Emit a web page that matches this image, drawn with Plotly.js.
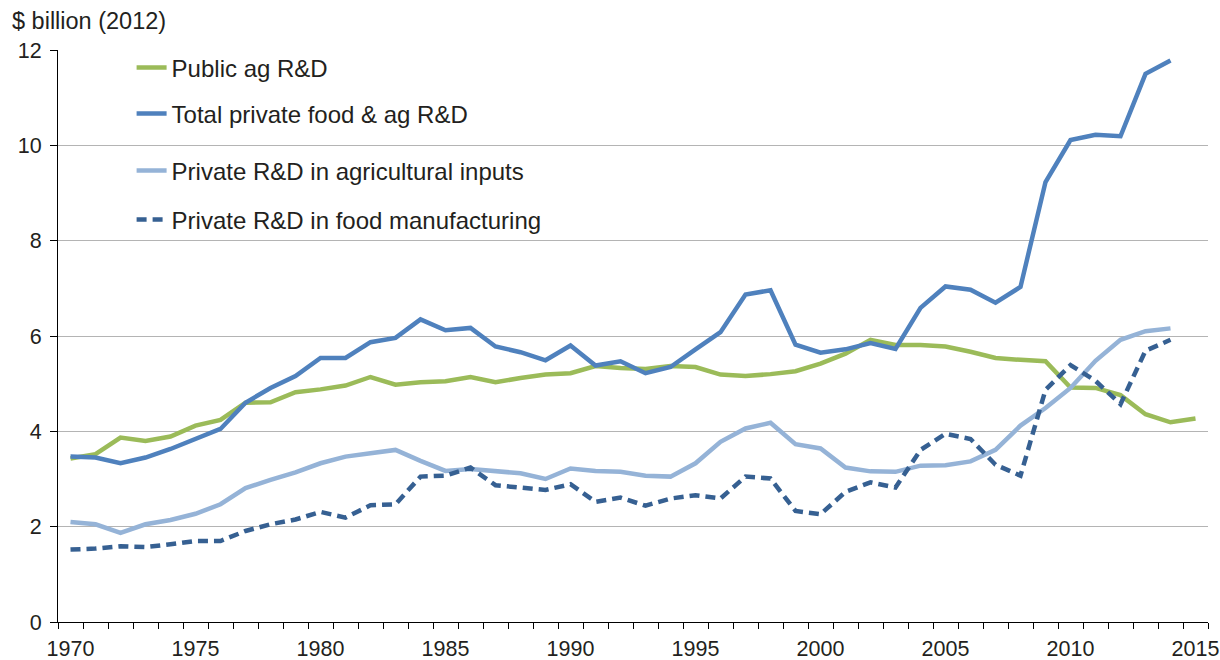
<!DOCTYPE html>
<html>
<head>
<meta charset="utf-8">
<script src="https://cdn.plot.ly/plotly-3.0.1.min.js"></script>
<style>html,body{margin:0;padding:0;background:#fff;}#chart{width:1220px;height:660px;}</style>
</head>
<body>
<div id="chart"></div>
<script>
const years = [];
for (let y = 1970; y <= 2015; y++) years.push(y);

const publicAg = [3.43,3.52,3.87,3.80,3.89,4.12,4.24,4.60,4.61,4.82,4.88,4.96,5.14,4.98,5.03,5.05,5.14,5.03,5.12,5.19,5.22,5.37,5.33,5.31,5.37,5.35,5.19,5.16,5.20,5.26,5.42,5.63,5.92,5.81,5.81,5.78,5.67,5.54,5.50,5.47,4.92,4.91,4.76,4.36,4.19,4.27];
const totalPrivate = [3.47,3.45,3.33,3.45,3.63,3.85,4.05,4.60,4.91,5.16,5.54,5.54,5.87,5.96,6.35,6.12,6.17,5.78,5.66,5.49,5.80,5.38,5.47,5.22,5.35,5.72,6.08,6.87,6.96,5.82,5.65,5.72,5.85,5.73,6.59,7.04,6.97,6.70,7.03,9.23,10.11,10.22,10.19,11.50,11.78];
const agInputs = [2.10,2.05,1.87,2.05,2.14,2.27,2.47,2.81,2.98,3.14,3.33,3.47,3.54,3.61,3.38,3.17,3.21,3.17,3.12,3.00,3.22,3.17,3.15,3.07,3.05,3.33,3.78,4.06,4.18,3.73,3.64,3.24,3.16,3.15,3.28,3.29,3.37,3.61,4.12,4.49,4.91,5.48,5.92,6.10,6.16];
const foodMfg = [1.52,1.54,1.59,1.57,1.63,1.70,1.70,1.91,2.05,2.15,2.31,2.19,2.45,2.47,3.05,3.07,3.24,2.87,2.82,2.77,2.89,2.52,2.61,2.44,2.59,2.66,2.59,3.05,3.01,2.33,2.26,2.73,2.93,2.82,3.61,3.95,3.84,3.30,3.07,4.87,5.39,5.06,4.57,5.69,5.92];

const seriesNames = ["Public ag R&D","Total private food & ag R&D","Private R&D in agricultural inputs","Private R&D in food manufacturing"];
const xTickVals = [1970,1975,1980,1985,1990,1995,2000,2005,2010,2015];
const yTickVals = [0,2,4,6,8,10,12];

const FONT = "Liberation Sans, Arial, Helvetica, sans-serif";
const TXT = "#231f20";

const traces = [
  {x: years, y: publicAg, name: seriesNames[0], mode: "lines", line: {color: "#9bbb59", width: 4.5}, legend: "legend"},
  {x: years.slice(0, totalPrivate.length), y: totalPrivate, name: seriesNames[1], mode: "lines", line: {color: "#4f81bd", width: 4.5}, legend: "legend2"},
  {x: years.slice(0, agInputs.length), y: agInputs, name: seriesNames[2], mode: "lines", line: {color: "#95b3d7", width: 4.5}, legend: "legend3"},
  {x: years.slice(0, foodMfg.length), y: foodMfg, name: seriesNames[3], mode: "lines", line: {color: "#366092", width: 4.5, dash: "10px,6px"}, legend: "legend4"}
];

function leg(y) {
  return {x: 0.064, xanchor: "left", y: y, yanchor: "middle", bgcolor: "rgba(0,0,0,0)",
          font: {family: FONT, size: 24, color: TXT}, borderwidth: 0};
}

const layout = {
  width: 1220, height: 660,
  margin: {l: 57.5, r: 12, t: 50, b: 38},
  paper_bgcolor: "#fff", plot_bgcolor: "#fff",
  font: {family: FONT, size: 21.5, color: TXT},
  title: {text: "$ billion (2012)", x: 12/1220, xanchor: "left", xref: "container", y: 1 - 21/660, yanchor: "middle", yref: "container",
          font: {family: FONT, size: 23.5, color: TXT}},
  xaxis: {range: [1969.5, 2015.5], tickvals: xTickVals, ticktext: xTickVals.map(String), ticks: "", showgrid: false, zeroline: false,
          showline: true, linecolor: "#000", linewidth: 1, tickfont: {family: FONT, size: 21.5, color: TXT}, ticklabelstandoff: 7,
          minor: {tick0: 1969.5, dtick: 1, ticks: "outside", ticklen: 6, tickcolor: "#000", tickwidth: 1, showgrid: false}},
  yaxis: {range: [0, 12], tickvals: yTickVals, ticks: "outside", ticklen: 7, tickcolor: "#000", showgrid: true, gridcolor: "#b4b4b4", gridwidth: 1,
          zeroline: false, showline: true, linecolor: "#000", linewidth: 1, tickfont: {family: FONT, size: 21.5, color: TXT}, ticklabelstandoff: 4},
  showlegend: true,
  legend: leg((622-68)/572),
  legend2: leg((622-114)/572),
  legend3: leg((622-171)/572),
  legend4: leg((622-220)/572)
};

Plotly.newPlot("chart", traces, layout, {displayModeBar: false, staticPlot: true});
</script>
</body>
</html>
